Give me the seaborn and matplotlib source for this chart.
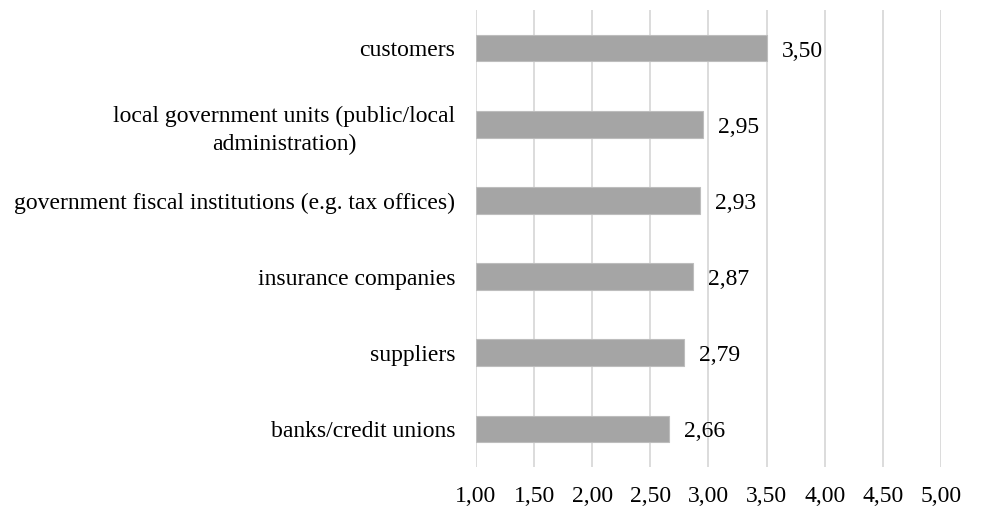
import matplotlib
matplotlib.use("Agg")
import matplotlib.pyplot as plt
import seaborn as sns
import pandas as pd

categories = [
    "customers",
    "local government units (public/local\nadministration)",
    "government fiscal institutions (e.g. tax offices)",
    "insurance companies",
    "suppliers",
    "banks/credit unions",
]
values = [3.50, 2.95, 2.93, 2.87, 2.79, 2.66]
x_ticks = [1.0, 1.5, 2.0, 2.5, 3.0, 3.5, 4.0, 4.5, 5.0]

sns.set_theme(style="white")
plt.rcParams["font.family"] = ["Liberation Serif", "DejaVu Serif"]

df = pd.DataFrame({"category": categories, "value": values})

fig = plt.figure(figsize=(10.03, 5.08), dpi=100)
ax = fig.add_axes([476 / 1003, 1 - 467 / 508, (941 - 476) / 1003, (467 - 10) / 508])

bar_color = "#A5A5A5"
sns.barplot(data=df, x="value", y="category", orient="h", color=bar_color,
            width=0.35, edgecolor="#BDBDBD", linewidth=0.8, saturation=1,
            ax=ax)
# bars start from 1.00, the left edge of the scale
for patch, v in zip(ax.patches, values):
    patch.set_x(1.0)
    patch.set_width(v - 1.0)

ax.set_xlim(1.0, 5.0)
ax.set_xticks(x_ticks)
ax.set_xticklabels([f"{t:.2f}".replace(".", ",") for t in x_ticks])
ax.set_xlabel("")
ax.set_ylabel("")

ax.grid(axis="x", color="#D9D9D9", linewidth=1.3)
ax.set_axisbelow(True)
for s in ax.spines.values():
    s.set_visible(False)

fs = 17
ax.tick_params(axis="x", length=0, pad=13.5, labelsize=fs, colors="#000000")
ax.tick_params(axis="y", length=0, pad=15, labelsize=fs, colors="#000000")
for lbl in ax.get_yticklabels():
    lbl.set_multialignment("center")
    lbl.set_linespacing(1.45)

for i, v in enumerate(values):
    ax.annotate(f"{v:.2f}".replace(".", ","), xy=(v, i), xytext=(15, -3),
                textcoords="offset pixels",
                va="center", ha="left", fontsize=fs, color="#000000")

fig.savefig("out.png", dpi=100)
